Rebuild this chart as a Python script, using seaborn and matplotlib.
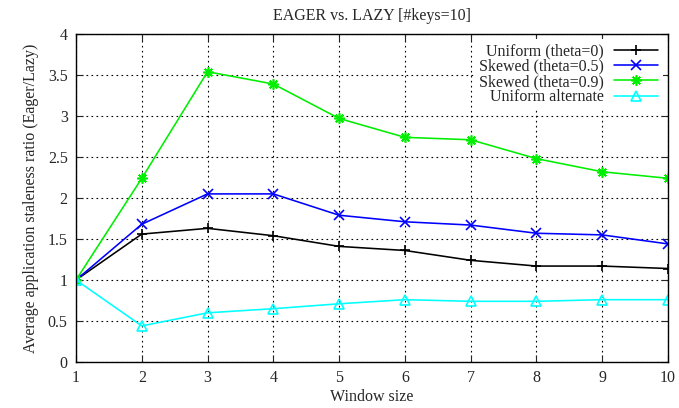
import matplotlib
matplotlib.use("Agg")
import matplotlib.pyplot as plt
import seaborn as sns
import pandas as pd

window = [1, 2, 3, 4, 5, 6, 7, 8, 9, 10]
uniform = [1.0, 1.56, 1.63, 1.54, 1.41, 1.36, 1.24, 1.17, 1.17, 1.14]
skewed05 = [1.0, 1.68, 2.05, 2.05, 1.79, 1.71, 1.67, 1.57, 1.55, 1.44]
skewed09 = [1.0, 2.24, 3.54, 3.39, 2.97, 2.74, 2.71, 2.48, 2.32, 2.24]
uniform_alt = [1.0, 0.44, 0.60, 0.65, 0.71, 0.76, 0.74, 0.74, 0.76, 0.76]

labels = ["Uniform (theta=0)", "Skewed (theta=0.5)", "Skewed (theta=0.9)", "Uniform alternate"]
series = [uniform, skewed05, skewed09, uniform_alt]
colors = ["#000000", "#0000ff", "#00ee00", "#00ffff"]
markers = ["+", "x", (8, 2, 0), "^"]

sns.set_style("ticks")
plt.rcParams["font.family"] = ["Liberation Serif", "DejaVu Serif"]

fig = plt.figure(figsize=(6.79, 4.08), dpi=100)
ax = fig.add_axes([76 / 679, 46 / 408, 592 / 679, 328 / 408])

for lab, vals, col, mk in zip(labels, series, colors, markers):
    df = pd.DataFrame({"x": window, "y": vals})
    kw = dict(markersize=7.5, markeredgewidth=1.2, markeredgecolor=col, markerfacecolor=col)
    if mk == "^":
        kw.update(markerfacecolor="none", markersize=7)
    sns.lineplot(data=df, x="x", y="y", ax=ax, color=col, marker=mk,
                 linewidth=1.15, label=lab, **kw)

ax.set_xlim(1, 10)
ax.set_ylim(0, 4)
ax.set_xticks(window)
ax.set_yticks([0, 0.5, 1, 1.5, 2, 2.5, 3, 3.5, 4])
ax.set_yticklabels(["0", "0.5", "1", "1.5", "2", "2.5", "3", "3.5", "4"])
ax.grid(True, color="black", linestyle=(0, (1.5, 3)), linewidth=0.8)
ax.tick_params(direction="in", top=True, right=True, length=5, labelsize=11.5, pad=6)
for s in ax.spines.values():
    s.set_linewidth(1.0)
    s.set_color("black")
ax.set_xlabel("Window size", fontsize=11.5, labelpad=2)
ax.set_ylabel("Average application staleness ratio (Eager/Lazy)", fontsize=11.5, labelpad=6)
ax.set_title("EAGER vs. LAZY [#keys=10]", fontsize=11.5, pad=10)

leg = ax.legend(loc="upper right", markerfirst=False, frameon=True, fontsize=11.5,
                handlelength=2.8, labelspacing=-0.05, borderaxespad=0.3,
                handletextpad=0.6, borderpad=0.3, fancybox=False)
leg.get_frame().set_facecolor("white")
leg.get_frame().set_edgecolor("none")
leg.get_frame().set_alpha(1.0)

fig.savefig("out.png", dpi=100)
